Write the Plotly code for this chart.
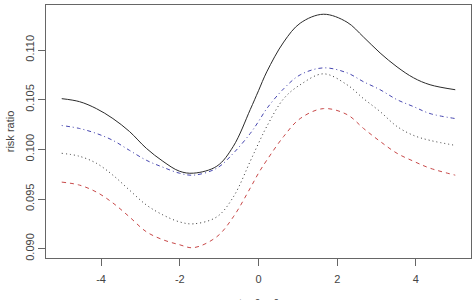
import plotly.graph_objects as go

x_vals = [-5.0, -4.55, -4.12, -3.7, -3.28, -2.85, -2.43, -2.01, -1.65, -1.06, -0.64,
          -0.21, 0.0, 0.21, 0.64, 1.06, 1.65, 2.25, 2.67, 3.09, 3.52, 3.94, 4.36, 5.0]

solid = [0.1051, 0.1048, 0.1041, 0.1031, 0.1018, 0.1001, 0.0988, 0.0978, 0.0976, 0.0983, 0.1003,
         0.1040, 0.1059, 0.1078, 0.1108, 0.1127, 0.1136, 0.1128, 0.1113, 0.1097, 0.1083, 0.1072, 0.1065, 0.1060]
dotdash = [0.1024, 0.1021, 0.1016, 0.1009, 0.0999, 0.0989, 0.0982, 0.0976, 0.0974, 0.0981, 0.0996,
           0.1016, 0.1028, 0.1041, 0.1061, 0.1075, 0.1082, 0.1077, 0.1068, 0.1060, 0.1050, 0.1043, 0.1036, 0.1031]
dotted = [0.0996, 0.0993, 0.0986, 0.0974, 0.0959, 0.0944, 0.0934, 0.0927, 0.0925, 0.0932, 0.0952,
          0.0988, 0.1006, 0.1023, 0.1051, 0.1065, 0.1076, 0.1065, 0.1051, 0.1038, 0.1023, 0.1014, 0.1009, 0.1004]
dashed = [0.0967, 0.0964, 0.0957, 0.0946, 0.0932, 0.0917, 0.0909, 0.0904, 0.0901, 0.0912, 0.0932,
          0.0961, 0.0976, 0.0989, 0.1013, 0.1031, 0.1041, 0.1035, 0.1021, 0.1008, 0.0996, 0.0988, 0.0981, 0.0974]

x_ticks = [-4, -2, 0, 2, 4]
y_ticks = [0.090, 0.095, 0.100, 0.105, 0.110]
y_tick_labels = ["0.090", "0.095", "0.100", "0.105", "0.110"]

series = [
    (solid, "#2a2a2a", "solid"),
    (dotdash, "#4646b0", "1px,3px,4px,3px"),
    (dotted, "#333333", "1px,3px"),
    (dashed, "#c84848", "4px,4px"),
]

fig = go.Figure()
for ys, col, dash in series:
    fig.add_trace(go.Scatter(x=x_vals, y=ys, mode="lines",
                             line=dict(color=col, width=1, dash=dash, shape="spline", smoothing=1.0),
                             showlegend=False, hoverinfo="skip"))

font = dict(family="Liberation Sans, Arial, sans-serif", size=11, color="#444")

fig.update_layout(
    width=475, height=300,
    margin=dict(l=46, r=4, t=5, b=42),
    paper_bgcolor="white", plot_bgcolor="white",
    font=font,
    xaxis=dict(range=[-5.4, 5.4], tickvals=x_ticks, ticktext=[str(v) for v in x_ticks],
               showgrid=False, zeroline=False, showline=True, linecolor="#666", linewidth=1,
               mirror=True, ticks="outside", ticklen=7, tickcolor="#666", tickfont=font,
               ticklabelstandoff=4),
    yaxis=dict(range=[0.08906, 0.11453], tickvals=y_ticks, ticktext=y_tick_labels,
               tickangle=-90, showgrid=False, zeroline=False, showline=True, linecolor="#666",
               linewidth=1, mirror=True, ticks="outside", ticklen=7, tickcolor="#666",
               tickfont=font,
               title=dict(text="risk ratio", font=font, standoff=6)),
)

fig.add_annotation(text="t − θ − θ", xref="paper", yref="paper", x=0.5, y=-0.145,
                   yanchor="top", showarrow=False, font=font)

fig.write_html("out.html")
